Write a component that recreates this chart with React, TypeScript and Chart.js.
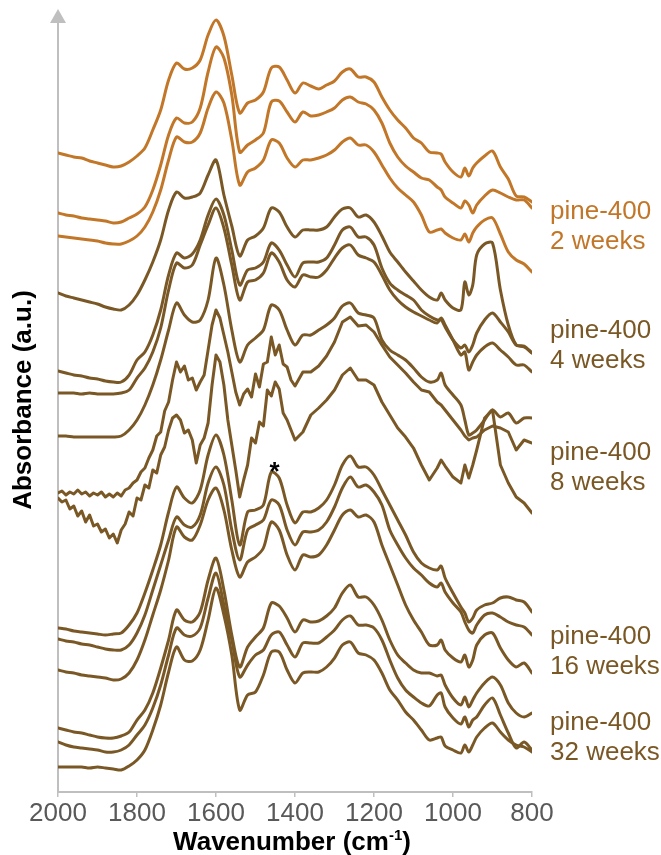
import React, { useEffect, useRef } from "react";
import { Chart, registerables } from "chart.js";

Chart.register(...registerables);

// ---------- data ----------
// wavenumbers (cm-1) sampled for the smooth spectra
const WN = [
  2000, 1980, 1960, 1940, 1920, 1900, 1880, 1860,
  1840, 1820, 1800, 1780, 1760, 1740, 1720, 1700,
  1680, 1660, 1640, 1620, 1600, 1580, 1560, 1540,
  1520, 1500, 1480, 1460, 1440, 1420, 1400, 1380,
  1360, 1340, 1320, 1300, 1280, 1260, 1240, 1220,
  1200, 1180, 1160, 1140, 1120, 1100, 1080, 1060,
  1040, 1030, 1020, 1000, 980, 970, 960, 950,
  940, 920, 900, 880, 860, 840, 820, 800,
];

// finer sampling for the noisy 8-week spectra
const WN_FINE = [
  2000, 1990, 1980, 1970, 1960, 1950, 1940, 1930, 1920, 1910,
  1900, 1890, 1880, 1870, 1860, 1850, 1840, 1830, 1820, 1810,
  1800, 1790, 1780, 1770, 1760, 1750, 1740, 1730, 1720, 1710,
  1700, 1690, 1680, 1670, 1660, 1650, 1640, 1630, 1620, 1610,
  1600, 1590, 1580, 1570, 1560, 1550, 1540, 1530, 1520, 1510,
  1500, 1490, 1480, 1470, 1460, 1450, 1440, 1430, 1420, 1410,
  1400,
  1380, 1360, 1340, 1320, 1300, 1280, 1260, 1240, 1220, 1200,
  1180, 1160, 1140, 1120, 1100, 1080, 1060, 1040,
  1030, 1020, 1000, 980, 970, 960, 950, 940, 920, 900, 880, 860, 840, 820, 800,
];

// absorbance (a.u., stacked with offsets)
const W2_A = [
  639, 637, 635, 634, 631, 629, 627, 625,
  626, 630, 636, 644, 662, 682, 712, 729,
  723, 724, 732, 757, 772, 756, 717, 679,
  689, 692, 700, 724, 725, 712, 699, 709,
  706, 703, 707, 711, 720, 723, 715, 715,
  710, 695, 682, 672, 664, 654, 649, 640,
  639, 638, 630, 620, 615, 624, 616, 624,
  629, 636, 641, 625, 613, 596, 595, 590,
];
const W2_B = [
  579, 577, 576, 574, 573, 572, 571, 569,
  570, 574, 578, 585, 602, 627, 657, 674,
  669, 670, 684, 720, 745, 734, 697, 640,
  647, 652, 659, 690, 691, 680, 670, 680,
  676, 677, 680, 684, 692, 695, 690, 688,
  682, 669, 649, 635, 626, 620, 614, 612,
  605, 602, 595, 589, 584, 591, 587, 579,
  587, 596, 602, 599, 595, 592, 592, 584,
];
const W2_C = [
  556, 555, 554, 553, 552, 551, 549, 548,
  548, 551, 556, 565, 580, 602, 632, 655,
  650, 650, 659, 684, 700, 689, 652, 607,
  620, 624, 632, 652, 649, 634, 625, 632,
  632, 634, 637, 642, 650, 654, 647, 647,
  640, 627, 614, 604, 597, 590, 577, 560,
  562, 563, 559, 554, 552, 558, 550, 559,
  565, 572, 574, 558, 540, 532, 528, 520,
];
const W4_A = [
  499, 496, 494, 492, 490, 488, 485, 483,
  482, 487, 497, 512, 530, 552, 582, 600,
  594, 595, 599, 617, 632, 597, 566, 536,
  552, 556, 564, 584, 580, 565, 555, 562,
  562, 562, 565, 575, 583, 584, 575, 577,
  570, 556, 540, 530, 520, 511, 502, 495,
  492, 499, 492, 484, 482, 510, 497, 507,
  537, 548, 549, 502, 467, 447, 446, 439,
];
const W4_B = [
  421, 419, 417, 416, 414, 413, 411, 410,
  410, 417, 432, 440, 457, 482, 517, 539,
  534, 538, 552, 577, 593, 577, 542, 507,
  522, 524, 530, 549, 542, 527, 515, 529,
  530, 530, 534, 547, 562, 565, 555, 555,
  547, 524, 509, 502, 497, 492, 482, 476,
  472, 472, 465, 452, 444, 447, 440, 447,
  459, 472, 479, 470, 460, 447, 445, 439,
];
const W4_C = [
  399, 399, 399, 398, 399, 398, 398, 398,
  399, 402, 414, 424, 440, 464, 502, 529,
  524, 527, 547, 567, 584, 564, 527, 492,
  510, 512, 519, 539, 530, 512, 505, 517,
  515, 515, 522, 534, 544, 547, 537, 534,
  530, 517, 502, 492, 485, 480, 476, 472,
  469, 474, 467, 452, 437, 440, 422, 430,
  437, 445, 449, 442, 435, 427, 427, 420,
];
const W8_A = [
  356, 356, 355, 355, 355, 355, 355, 355,
  356, 362, 372, 387, 407, 432, 462, 489,
  477, 470, 472, 492, 534, 507, 462, 430,
  447, 454, 462, 487, 482, 462, 447, 457,
  457, 462, 467, 474, 486, 489, 479, 477,
  474, 452, 442, 437, 432, 424, 415, 410,
  412, 419, 407, 397, 387, 372, 357, 359,
  362, 372, 382, 375, 379, 369, 374, 374,
];
const W8_B = [
  299, 301, 297, 300, 298, 302, 298, 300, 296, 299,
  297, 300, 295, 298, 295, 299, 296, 302, 304, 309,
  312, 320, 324, 334, 342, 356, 360, 381, 390, 412,
  430, 420, 426, 412, 414, 402, 410, 417, 442, 467,
  482, 474, 457, 440, 420, 400, 387, 398, 403, 395,
  418, 405, 428, 430, 455, 437, 447, 428, 425, 412,
  406, 420, 420, 426, 436, 450, 470, 475, 466, 467,
  460, 447, 435, 427, 419, 410, 402, 400, 390, 387,
  382, 372, 362, 356, 352, 354, 355, 362, 366, 364,
  360, 342, 352, 349,
];
const W8_C = [
  294, 290, 292, 283, 286, 276, 281, 270, 277, 266,
  268, 260, 263, 254, 258, 249, 262, 268, 280, 276,
  294, 292, 307, 304, 322, 319, 337, 345, 362, 374,
  377, 372, 359, 362, 352, 329, 347, 354, 369, 407,
  437, 430, 407, 372, 347, 322, 295, 312, 327, 354,
  349, 370, 366, 402, 396, 410, 403, 379, 372, 362,
  352, 360, 377, 384, 392, 402, 417, 424, 412, 412,
  407, 390, 377, 364, 355, 344, 327, 312, 324, 332,
  326, 315, 309, 327, 314, 327, 342, 374, 382, 327,
  309, 295, 289, 279,
];
const W16_A = [
  164, 163, 161, 160, 159, 158, 157, 158,
  159, 167, 179, 199, 222, 247, 280, 305,
  294, 289, 302, 337, 357, 337, 292, 247,
  280, 282, 287, 320, 314, 287, 269, 280,
  280, 284, 292, 307, 327, 336, 325, 325,
  317, 302, 287, 272, 257, 240, 229, 224,
  222, 226, 214, 199, 185, 179, 170, 174,
  182, 187, 189, 194, 195, 192, 190, 180,
];
const W16_B = [
  153, 151, 150, 148, 147, 145, 143, 142,
  142, 147, 159, 177, 202, 227, 252, 275,
  267, 265, 277, 309, 325, 307, 262, 232,
  262, 267, 272, 292, 287, 262, 247, 260,
  260, 262, 270, 285, 304, 315, 305, 307,
  300, 287, 262, 247, 234, 224, 217, 209,
  205, 209, 200, 189, 180, 170, 162, 159,
  167, 177, 179, 175, 170, 167, 165, 157,
];
const W16_C = [
  122, 120, 119, 117, 116, 115, 114, 112,
  113, 119, 132, 152, 177, 202, 232, 265,
  255, 252, 267, 292, 304, 282, 242, 215,
  230, 235, 244, 270, 262, 237, 222, 237,
  235, 237, 247, 262, 277, 282, 275, 277,
  270, 247, 227, 207, 187, 172, 160, 147,
  147, 152, 142, 134, 130, 137, 125, 132,
  147, 157, 159, 144, 132, 125, 129, 119,
];
const W32_A = [
  64, 62, 60, 59, 57, 55, 54, 54,
  56, 60, 72, 82, 99, 124, 152, 182,
  172, 170, 180, 212, 234, 202, 157, 125,
  145, 155, 164, 189, 186, 174, 160, 172,
  170, 171, 176, 184, 199, 207, 195, 195,
  187, 172, 152, 137, 129, 122, 119, 119,
  116, 117, 107, 94, 87, 95, 85, 92,
  99, 109, 115, 107, 89, 79, 75, 79,
];
const W32_B = [
  50, 47, 45, 44, 43, 42, 40, 40,
  42, 47, 57, 67, 84, 107, 137, 164,
  157, 156, 164, 194, 219, 187, 152, 115,
  127, 137, 142, 157, 160, 147, 135, 149,
  149, 149, 155, 162, 172, 176, 167, 167,
  164, 152, 132, 114, 102, 95, 89, 86,
  97, 99, 85, 74, 68, 75, 65, 72,
  75, 87, 94, 77, 59, 44, 50, 42,
];
const W32_C = [
  25, 25, 25, 25, 24, 25, 24, 23,
  22, 26, 32, 42, 62, 87, 120, 145,
  132, 131, 142, 172, 204, 177, 137, 82,
  97, 100, 117, 140, 140, 122, 109, 119,
  120, 120, 125, 134, 147, 150, 139, 137,
  132, 119, 102, 92, 80, 72, 62, 52,
  54, 55, 46, 42, 39, 47, 40, 47,
  55, 64, 69, 60, 52, 47, 45, 40,
];

const GROUP_NAMES = ["2 weeks", "4 weeks", "8 weeks", "16 weeks", "32 weeks"];
const SAMPLE_NAME = "pine-400";
const LABEL_Y = [580, 461, 339, 155, 69]; // a.u. level of each right-hand label
const X_TICKS_MIN = 800;
const X_TICKS_MAX = 2000;
const X_STEP = 200;
const STAR_POS = { wn: 1452, a: 312 };

// ---------- style ----------
const ORANGE = "#c27628";
const BROWN = "#7a5826";
const AXIS_COLOR = "#bfbfbf";
const FONT = "'Liberation Sans', Arial, sans-serif";

const GROUP_COLORS = [ORANGE, BROWN, BROWN, BROWN, BROWN];

const CURVES: { wn: number[]; a: number[]; color: string; noisy?: boolean }[] = [
  { wn: WN, a: W2_A, color: ORANGE },
  { wn: WN, a: W2_B, color: ORANGE },
  { wn: WN, a: W2_C, color: ORANGE },
  { wn: WN, a: W4_A, color: BROWN },
  { wn: WN, a: W4_B, color: BROWN },
  { wn: WN, a: W4_C, color: BROWN },
  { wn: WN, a: W8_A, color: BROWN },
  { wn: WN_FINE, a: W8_B, color: BROWN, noisy: true },
  { wn: WN_FINE, a: W8_C, color: BROWN, noisy: true },
  { wn: WN, a: W16_A, color: BROWN },
  { wn: WN, a: W16_B, color: BROWN },
  { wn: WN, a: W16_C, color: BROWN },
  { wn: WN, a: W32_A, color: BROWN },
  { wn: WN, a: W32_B, color: BROWN },
  { wn: WN, a: W32_C, color: BROWN },
];

const annotations = {
  id: "annotations",
  afterDraw(chart: any) {
    const { ctx, chartArea, scales } = chart;
    const xs = scales.x;
    const ys = scales.y;
    ctx.save();

    // arrow head of the y axis
    ctx.fillStyle = AXIS_COLOR;
    ctx.beginPath();
    ctx.moveTo(chartArea.left, chartArea.top - 3);
    ctx.lineTo(chartArea.left - 8, chartArea.top + 11);
    ctx.lineTo(chartArea.left + 8, chartArea.top + 11);
    ctx.closePath();
    ctx.fill();

    // y title
    ctx.save();
    ctx.translate(24, (chartArea.top + chartArea.bottom) / 2 - 2);
    ctx.rotate(-Math.PI / 2);
    ctx.font = `bold 26px ${FONT}`;
    ctx.fillStyle = "#000";
    ctx.textAlign = "center";
    ctx.textBaseline = "middle";
    ctx.fillText("Absorbance (a.u.)", 0, 0);
    ctx.restore();

    // x title with superscript
    const main = "Wavenumber (cm";
    const sup = "-1";
    const close = ")";
    ctx.fillStyle = "#000";
    ctx.textBaseline = "alphabetic";
    ctx.textAlign = "left";
    ctx.font = `bold 26px ${FONT}`;
    const w1 = ctx.measureText(main).width;
    const w3 = ctx.measureText(close).width;
    ctx.font = `bold 15px ${FONT}`;
    const w2 = ctx.measureText(sup).width;
    const total = w1 + w2 + w3;
    const x0 = (chartArea.left + chartArea.right) / 2 - total / 2 - 3;
    const base = chartArea.bottom + 58;
    ctx.font = `bold 26px ${FONT}`;
    ctx.fillText(main, x0, base);
    ctx.font = `bold 15px ${FONT}`;
    ctx.fillText(sup, x0 + w1, base - 10);
    ctx.font = `bold 26px ${FONT}`;
    ctx.fillText(close, x0 + w1 + w2, base);

    // group labels at the right
    ctx.font = `26px ${FONT}`;
    ctx.textAlign = "left";
    ctx.textBaseline = "middle";
    GROUP_NAMES.forEach((g, i) => {
      const y = ys.getPixelForValue(LABEL_Y[i]);
      ctx.fillStyle = GROUP_COLORS[i];
      ctx.fillText(SAMPLE_NAME, chartArea.right + 18, y);
      ctx.fillText(g, chartArea.right + 18, y + 30);
    });

    // asterisk marker
    ctx.fillStyle = "#000";
    ctx.font = `bold 26px ${FONT}`;
    ctx.textAlign = "center";
    ctx.textBaseline = "alphabetic";
    ctx.fillText("*", xs.getPixelForValue(STAR_POS.wn), ys.getPixelForValue(STAR_POS.a));

    ctx.restore();
  },
};

export default function App() {
  const ref = useRef<HTMLCanvasElement | null>(null);

  useEffect(() => {
    if (!ref.current) return;
    const datasets = CURVES.map((c) => ({
      data: c.wn.map((w, i) => ({ x: w, y: c.a[i] })),
      borderColor: c.color,
      backgroundColor: c.color,
      borderWidth: 3,
      borderJoinStyle: "round" as const,
      borderCapStyle: "round" as const,
      pointRadius: 0,
      tension: c.noisy ? 0 : 0.3,
      fill: false,
    }));
    const chart = new Chart(ref.current, {
      type: "line",
      data: { datasets },
      options: {
        animation: false,
        responsive: false,
        maintainAspectRatio: false,
        layout: { padding: { left: 58, right: 129, top: 12, bottom: 0 } },
        plugins: { legend: { display: false }, tooltip: { enabled: false }, title: { display: false } },
        scales: {
          x: {
            type: "linear",
            reverse: true,
            min: X_TICKS_MIN,
            max: X_TICKS_MAX,
            afterFit: (s: any) => {
              s.height = 63;
            },
            ticks: {
              stepSize: X_STEP,
              color: "#595959",
              padding: 1,
              font: { family: FONT, size: 26 },
              callback: (v: any) => String(v),
              maxRotation: 0,
            },
            grid: { display: true, drawOnChartArea: false, drawTicks: true, tickLength: 5, color: AXIS_COLOR, lineWidth: 1.5 },
            border: { display: true, color: AXIS_COLOR, width: 2 },
          },
          y: {
            type: "linear",
            min: 0,
            max: 780,
            ticks: { display: false },
            grid: { display: false, drawTicks: false },
            border: { display: true, color: AXIS_COLOR, width: 2 },
          },
        },
      },
      plugins: [annotations],
    });
    return () => chart.destroy();
  }, []);

  return (
    <div style={{ position: "fixed", left: 0, top: 0, width: 661, height: 855, background: "#fff" }}>
      <canvas ref={ref} width={661} height={855} />
    </div>
  );
}
